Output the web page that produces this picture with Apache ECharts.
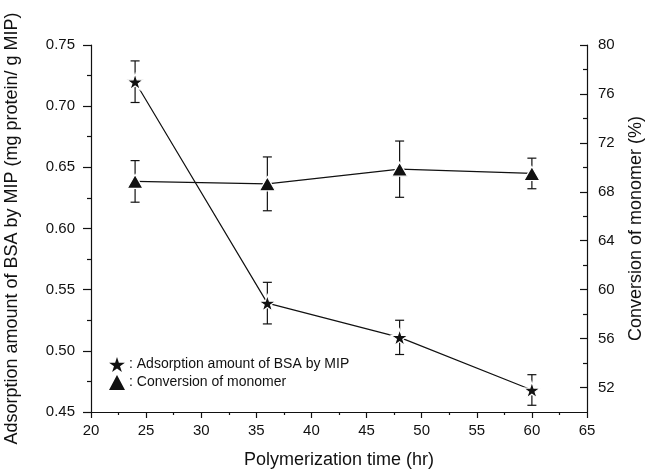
<!DOCTYPE html>
<html>
<head>
<meta charset="utf-8">
<script src="https://cdn.jsdelivr.net/npm/echarts@6/dist/echarts.min.js"></script>
<style>
  html, body { margin: 0; padding: 0; background: #fff; }
  #chart { width: 646px; height: 469px; }
</style>
</head>
<body>
<div id="chart"></div>
<script>
var time = [24, 36, 48, 60];
var adsorption = [0.720, 0.539, 0.511, 0.468];
var adsorptionErr = [0.017, 0.017, 0.014, 0.0125];
var conversion = [68.85, 68.65, 69.85, 69.5];
var conversionErr = [1.7, 2.2, 2.3, 1.25];
var rightTicks = [52, 56, 60, 64, 68, 72, 76, 80];
var rightMinorTicks = [54, 58, 62, 66, 70, 74, 78];

var nameA = 'Adsorption amount of BSA by MIP';
var nameC = 'Conversion of monomer';
var star = 'path://M100,0 L122.45,69.1 L195.1,69.1 L136.3,111.8 L158.8,180.9 L100,138.2 L41.2,180.9 L63.7,111.8 L4.9,69.1 L77.55,69.1 Z';
var font = 'Liberation Sans, Arial, sans-serif';

function pairs(xs, ys) {
  return xs.map(function (x, i) { return [x, ys[i]]; });
}
function errData(xs, ys, es) {
  return xs.map(function (x, i) { return [x, ys[i] - es[i], ys[i] + es[i]]; });
}
function errItem(params, api) {
  var x = api.value(0);
  var lo = api.coord([x, api.value(1)]);
  var hi = api.coord([x, api.value(2)]);
  var w = 4.5;
  var st = { stroke: '#111', lineWidth: 1.2 };
  return {
    type: 'group',
    children: [
      { type: 'line', shape: { x1: lo[0], y1: lo[1], x2: hi[0], y2: hi[1] }, style: st },
      { type: 'line', shape: { x1: lo[0] - w, y1: lo[1], x2: lo[0] + w, y2: lo[1] }, style: st },
      { type: 'line', shape: { x1: hi[0] - w, y1: hi[1], x2: hi[0] + w, y2: hi[1] }, style: st }
    ]
  };
}

var chart = echarts.init(document.getElementById('chart'), null, { renderer: 'canvas' });
chart.setOption({
  animation: false,
  backgroundColor: '#fff',
  textStyle: { fontFamily: font, color: '#111' },
  grid: { left: 91, right: 59, top: 45, bottom: 57, containLabel: false, outerBoundsMode: 'none' },
  legend: {
    orient: 'vertical',
    left: 104,
    top: 352,
    itemWidth: 16,
    itemHeight: 15,
    itemGap: 3,
    formatter: ': {name}',
    itemStyle: { borderWidth: 0 },
    textStyle: { fontSize: 14, color: '#111', fontFamily: font, padding: [0, 0, 0, -1] },
    data: [
      { name: nameA, icon: star },
      { name: nameC, icon: 'triangle' }
    ]
  },
  xAxis: {
    type: 'value',
    min: 20, max: 65, interval: 5,
    name: 'Polymerization time (hr)',
    nameLocation: 'middle',
    nameGap: 39,
    nameTextStyle: { fontSize: 18, color: '#111' },
    axisLine: { lineStyle: { color: '#111', width: 1.2 } },
    axisTick: { length: 6, lineStyle: { color: '#111', width: 1.2 } },
    minorTick: { show: true, splitNumber: 2, length: 3, lineStyle: { color: '#111', width: 1.2 } },
    axisLabel: { fontSize: 15, color: '#111', margin: 11 },
    splitLine: { show: false }
  },
  yAxis: [
    {
      type: 'value',
      position: 'left',
      min: 0.45, max: 0.75, interval: 0.05,
      name: 'Adsorption amount of BSA by MIP (mg protein/ g MIP)',
      nameLocation: 'middle',
      nameRotate: 90,
      nameGap: 70,
      nameTextStyle: { fontSize: 18, color: '#111' },
      axisLine: { show: true, lineStyle: { color: '#111', width: 1.2 } },
      axisTick: { show: true, length: 8, lineStyle: { color: '#111', width: 1.2 } },
      minorTick: { show: true, splitNumber: 2, length: 4, lineStyle: { color: '#111', width: 1.2 } },
      axisLabel: { fontSize: 15, color: '#111', margin: 16, formatter: function (v) { return v.toFixed(2); } },
      splitLine: { show: false }
    },
    {
      type: 'value',
      position: 'right',
      min: 50, max: 80,
      name: 'Conversion of monomer (%)',
      nameLocation: 'middle',
      nameRotate: 90,
      nameGap: 40,
      nameTextStyle: { fontSize: 18, color: '#111' },
      axisLine: { show: true, lineStyle: { color: '#111', width: 1.2 } },
      axisTick: { show: true, inside: true, length: 7, customValues: rightTicks, lineStyle: { color: '#111', width: 1.2 } },
      axisLabel: { fontSize: 15, color: '#111', margin: 11, customValues: rightTicks },
      splitLine: { show: false }
    },
    {
      type: 'value',
      position: 'right',
      min: 50, max: 80,
      axisLine: { show: false },
      axisTick: { show: true, inside: true, length: 4, customValues: rightMinorTicks, lineStyle: { color: '#111', width: 1.2 } },
      axisLabel: { show: false },
      splitLine: { show: false }
    }
  ],
  series: [
    {
      type: 'custom',
      name: 'errA',
      yAxisIndex: 0,
      z: 1,
      renderItem: errItem,
      data: errData(time, adsorption, adsorptionErr)
    },
    {
      type: 'custom',
      name: 'errC',
      yAxisIndex: 1,
      z: 1,
      renderItem: errItem,
      data: errData(time, conversion, conversionErr)
    },
    {
      type: 'line',
      name: nameA,
      yAxisIndex: 0,
      z: 3,
      symbol: star,
      symbolKeepAspect: true,
      symbolSize: 17,
      lineStyle: { color: '#111', width: 1.2 },
      itemStyle: { color: '#111', borderColor: '#fff', borderWidth: 1.2 },
      data: pairs(time, adsorption)
    },
    {
      type: 'line',
      name: nameC,
      yAxisIndex: 1,
      z: 3,
      symbol: 'triangle',
      symbolSize: [16, 14],
      lineStyle: { color: '#111', width: 1.2 },
      itemStyle: { color: '#111', borderColor: '#fff', borderWidth: 1.2 },
      data: pairs(time, conversion)
    }
  ]
});
</script>
</body>
</html>
